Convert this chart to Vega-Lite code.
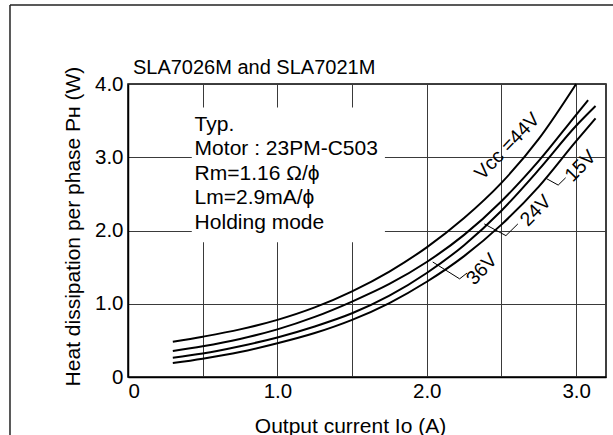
{
  "$schema": "https://vega.github.io/schema/vega-lite/v6.json",
  "autosize": {"type": "none"},
  "width": 478,
  "height": 293,
  "padding": {"left": 128, "top": 84, "right": 7, "bottom": 58},
  "background": "white",
  "config": {
    "font": "Liberation Sans",
    "view": {"stroke": "black", "strokeWidth": 1.5},
    "axis": {
      "domainColor": "black", "domainWidth": 1.5,
      "gridColor": "#3a3a3a", "gridWidth": 1, "gridOpacity": 1,
      "ticks": false,
      "labelFontSize": 20.5, "labelColor": "black", "labelFont": "Liberation Sans",
      "titleFontSize": 21, "titleFontWeight": "normal", "titleColor": "black", "titleFont": "Liberation Sans"
    }
  },
  "datasets": {
    "curves": [
      {"vcc": "44V", "x": 0.3, "y": 0.48}, {"vcc": "44V", "x": 0.5, "y": 0.55}, {"vcc": "44V", "x": 0.75, "y": 0.65},
      {"vcc": "44V", "x": 1.0, "y": 0.78}, {"vcc": "44V", "x": 1.25, "y": 0.95}, {"vcc": "44V", "x": 1.5, "y": 1.17},
      {"vcc": "44V", "x": 1.75, "y": 1.44}, {"vcc": "44V", "x": 2.0, "y": 1.77}, {"vcc": "44V", "x": 2.25, "y": 2.17},
      {"vcc": "44V", "x": 2.5, "y": 2.65}, {"vcc": "44V", "x": 2.75, "y": 3.25}, {"vcc": "44V", "x": 3.0, "y": 4.0},
      {"vcc": "36V", "x": 0.3, "y": 0.355}, {"vcc": "36V", "x": 0.5, "y": 0.42}, {"vcc": "36V", "x": 0.75, "y": 0.52},
      {"vcc": "36V", "x": 1.0, "y": 0.65}, {"vcc": "36V", "x": 1.25, "y": 0.82}, {"vcc": "36V", "x": 1.5, "y": 1.03},
      {"vcc": "36V", "x": 1.75, "y": 1.27}, {"vcc": "36V", "x": 2.0, "y": 1.57}, {"vcc": "36V", "x": 2.25, "y": 1.94},
      {"vcc": "36V", "x": 2.5, "y": 2.4}, {"vcc": "36V", "x": 2.75, "y": 2.95}, {"vcc": "36V", "x": 3.0, "y": 3.58},
      {"vcc": "36V", "x": 3.08, "y": 3.78},
      {"vcc": "24V", "x": 0.3, "y": 0.264}, {"vcc": "24V", "x": 0.5, "y": 0.32}, {"vcc": "24V", "x": 0.75, "y": 0.42},
      {"vcc": "24V", "x": 1.0, "y": 0.54}, {"vcc": "24V", "x": 1.25, "y": 0.69}, {"vcc": "24V", "x": 1.5, "y": 0.87},
      {"vcc": "24V", "x": 1.75, "y": 1.11}, {"vcc": "24V", "x": 2.0, "y": 1.42}, {"vcc": "24V", "x": 2.25, "y": 1.8},
      {"vcc": "24V", "x": 2.5, "y": 2.27}, {"vcc": "24V", "x": 2.75, "y": 2.83}, {"vcc": "24V", "x": 3.0, "y": 3.43},
      {"vcc": "24V", "x": 3.13, "y": 3.7},
      {"vcc": "15V", "x": 0.3, "y": 0.19}, {"vcc": "15V", "x": 0.5, "y": 0.25}, {"vcc": "15V", "x": 0.75, "y": 0.34},
      {"vcc": "15V", "x": 1.0, "y": 0.46}, {"vcc": "15V", "x": 1.25, "y": 0.6}, {"vcc": "15V", "x": 1.5, "y": 0.78},
      {"vcc": "15V", "x": 1.75, "y": 1.01}, {"vcc": "15V", "x": 2.0, "y": 1.3}, {"vcc": "15V", "x": 2.25, "y": 1.65},
      {"vcc": "15V", "x": 2.5, "y": 2.08}, {"vcc": "15V", "x": 2.75, "y": 2.6}, {"vcc": "15V", "x": 3.0, "y": 3.22},
      {"vcc": "15V", "x": 3.13, "y": 3.53}
    ],
    "leaders": [
      {"lead": "36V", "o": 1, "x": 2.04, "y": 1.57}, {"lead": "36V", "o": 2, "x": 2.22, "y": 1.34}, {"lead": "36V", "o": 3, "x": 2.27, "y": 1.42},
      {"lead": "24V", "o": 1, "x": 2.385, "y": 2.09}, {"lead": "24V", "o": 2, "x": 2.53, "y": 1.93}, {"lead": "24V", "o": 3, "x": 2.61, "y": 2.09},
      {"lead": "15V", "o": 1, "x": 2.8, "y": 2.71}, {"lead": "15V", "o": 2, "x": 2.88, "y": 2.62}, {"lead": "15V", "o": 3, "x": 2.93, "y": 2.72}
    ],
    "labels": [
      {"label": "Vᴄᴄ =44V", "x": 2.54, "y": 3.15},
      {"label": "36V", "x": 2.37, "y": 1.47},
      {"label": "24V", "x": 2.73, "y": 2.27},
      {"label": "15V", "x": 3.03, "y": 2.88}
    ],
    "heading": [{"label": "SLA7026M and SLA7021M", "x": 0.033, "y": 4.14}],
    "box": [{"x": 0.427, "x2": 1.72, "y": 1.84, "y2": 3.68}],
    "note": [{"x": 0.446, "y": 3.36}],
    "frame": [
      {"x": -0.79, "x2": -0.79, "y": -0.8, "y2": 5.08},
      {"x": -0.79, "x2": 3.25, "y": 5.08, "y2": 5.08}
    ]
  },
  "layer": [
    {
      "data": {"name": "curves"},
      "mark": {"type": "line", "color": "black", "strokeWidth": 2, "interpolate": "monotone"},
      "encoding": {
        "x": {
          "field": "x", "type": "quantitative",
          "scale": {"domain": [0, 3.2], "nice": false, "zero": false},
          "axis": {
            "values": [0, 0.5, 1, 1.5, 2, 2.5, 3],
            "labelExpr": "datum.value == 0 ? '0' : (datum.value % 1 == 0 ? format(datum.value, '.1f') : '')",
            "labelPadding": 4,
            "title": "Output current Iᴏ (A)",
            "titleX": 222, "titleY": 55, "titleAlign": "center", "titleBaseline": "alphabetic"
          }
        },
        "y": {
          "field": "y", "type": "quantitative",
          "scale": {"domain": [0, 4], "nice": false, "zero": false},
          "axis": {
            "values": [0, 0.5, 1, 1.5, 2, 2.5, 3, 3.5, 4],
            "labelExpr": "datum.value == 0 ? '0' : (datum.value % 1 == 0 ? format(datum.value, '.1f') : '')",
            "labelPadding": 5,
            "title": "Heat dissipation per phase Pʜ (W)",
            "titleX": -55, "titleY": 142, "titleAngle": -90, "titleAlign": "center", "titleBaseline": "middle"
          }
        },
        "detail": {"field": "vcc"}
      }
    },
    {
      "data": {"name": "box"},
      "mark": {"type": "rect", "fill": "white"},
      "encoding": {
        "x": {"field": "x", "type": "quantitative"},
        "x2": {"field": "x2"},
        "y": {"field": "y", "type": "quantitative"},
        "y2": {"field": "y2"}
      }
    },
    {
      "data": {"name": "note"},
      "mark": {
        "type": "text", "align": "left", "baseline": "alphabetic", "fontSize": 21, "lineHeight": 24.5,
        "color": "black", "font": "Liberation Sans",
        "text": ["Typ.", "Motor : 23PM-C503", "Rm=1.16 Ω/ϕ", "Lm=2.9mA/ϕ", "Holding mode"]
      },
      "encoding": {
        "x": {"field": "x", "type": "quantitative"},
        "y": {"field": "y", "type": "quantitative"}
      }
    },
    {
      "data": {"name": "leaders"},
      "mark": {"type": "line", "color": "black", "strokeWidth": 1},
      "encoding": {
        "x": {"field": "x", "type": "quantitative"},
        "y": {"field": "y", "type": "quantitative"},
        "detail": {"field": "lead"},
        "order": {"field": "o"}
      }
    },
    {
      "data": {"name": "labels"},
      "mark": {"type": "text", "align": "center", "baseline": "middle", "fontSize": 19.5, "angle": -46, "color": "black", "font": "Liberation Sans"},
      "encoding": {
        "x": {"field": "x", "type": "quantitative"},
        "y": {"field": "y", "type": "quantitative"},
        "text": {"field": "label"}
      }
    },
    {
      "data": {"name": "heading"},
      "mark": {"type": "text", "align": "left", "baseline": "alphabetic", "fontSize": 20, "color": "black", "font": "Liberation Sans"},
      "encoding": {
        "x": {"field": "x", "type": "quantitative"},
        "y": {"field": "y", "type": "quantitative"},
        "text": {"field": "label"}
      }
    },
    {
      "data": {"name": "frame"},
      "mark": {"type": "rule", "color": "#222", "strokeWidth": 1.5},
      "encoding": {
        "x": {"field": "x", "type": "quantitative"},
        "x2": {"field": "x2"},
        "y": {"field": "y", "type": "quantitative"},
        "y2": {"field": "y2"}
      }
    }
  ]
}
